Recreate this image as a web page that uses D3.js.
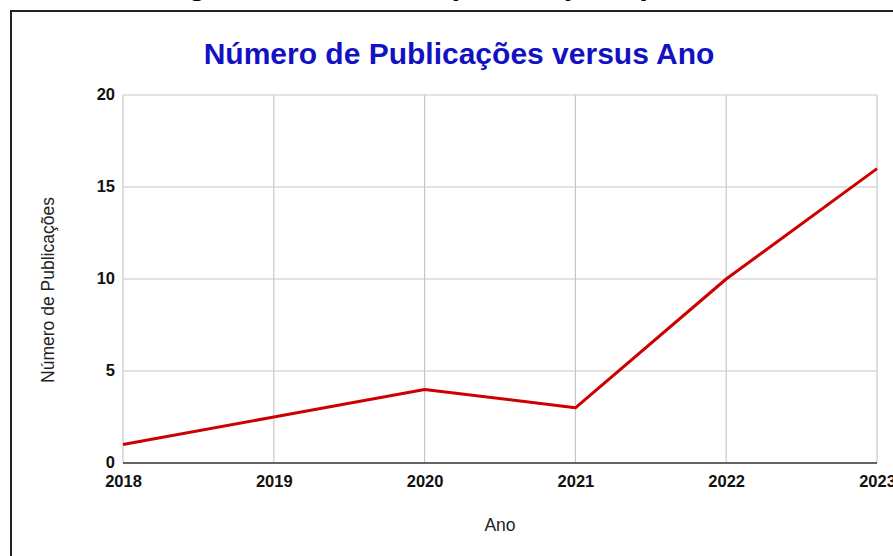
<!DOCTYPE html>
<html><head><meta charset="utf-8">
<script src="https://cdn.jsdelivr.net/npm/d3@7"></script>
<style>
html,body{margin:0;padding:0;background:#fff;}
svg{display:block;font-family:Arial,"Liberation Sans",sans-serif;}
</style></head>
<body>
<svg id="chart" width="893" height="556"></svg>
<script>
const years = [2018, 2019, 2020, 2021, 2022, 2023];
const publicacoes = [1, 2.5, 4, 3, 10, 16];
const yTicks = [0, 5, 10, 15, 20];
const titleText = "Número de Publicações versus Ano";
const xTitle = "Ano";
const yTitle = "Número de Publicações";
const captionStart = "Figura 1";
const captionRest = "Número de publicações por ano";

const svg = d3.select("#chart");
const W = 893, H = 556;
const m = {left:123, right:16, top:95, bottom:93};

// caption of the source document, cut off at the top edge
svg.append("text").attr("x", 160).attr("y", -6)
  .attr("font-size", 31).attr("font-weight", "bold").attr("fill", "#000").text(captionStart);
svg.append("text").attr("x", 281).attr("y", -6)
  .attr("font-size", 31).attr("font-weight", "bold").attr("fill", "#000").text(captionRest);

// frame
svg.append("path").attr("d", `M11,${H+5} L11,11 L${W+5},11`)
  .attr("fill","none").attr("stroke","#222").attr("stroke-width",2);

const x = d3.scaleLinear().domain([2018, 2023]).range([m.left, W - m.right]);
const y = d3.scaleLinear().domain([0, 20]).range([H - m.bottom, m.top]);

// grid
const g = svg.append("g");
g.append("g").selectAll("line").data(yTicks.filter(d=>d>0)).join("line")
  .attr("x1", x(2018)).attr("x2", x(2023))
  .attr("y1", d=>y(d)).attr("y2", d=>y(d))
  .attr("stroke", "#c8c8c8").attr("stroke-width", 1.2);
g.append("g").selectAll("line").data(years).join("line")
  .attr("x1", d=>x(d)).attr("x2", d=>x(d))
  .attr("y1", y(0)).attr("y2", y(20))
  .attr("stroke", "#c8c8c8").attr("stroke-width", 1.2);

// baseline
svg.append("line").attr("x1", x(2018)).attr("x2", x(2023))
  .attr("y1", y(0)).attr("y2", y(0)).attr("stroke", "#333").attr("stroke-width", 1.6);

// axes
const yAxis = svg.append("g").attr("transform", `translate(${x(2018)},0)`)
  .call(d3.axisLeft(y).tickValues(yTicks).tickSize(0).tickPadding(8));
yAxis.select(".domain").remove();
yAxis.selectAll("text").attr("font-size", 16.5).attr("font-weight", "bold")
  .attr("fill", "#111").attr("font-family", "Arial, 'Liberation Sans', sans-serif")
  .attr("dy", "0.25em");

const xAxis = svg.append("g").attr("transform", `translate(0,${y(0)})`)
  .call(d3.axisBottom(x).tickValues(years).tickFormat(d3.format("d")).tickSize(0).tickPadding(12));
xAxis.select(".domain").remove();
xAxis.selectAll("text").attr("font-size", 16.5).attr("font-weight", "bold")
  .attr("fill", "#111").attr("font-family", "Arial, 'Liberation Sans', sans-serif");

// line
svg.append("path").datum(years.map((d,i)=>[d, publicacoes[i]]))
  .attr("d", d3.line().x(d=>x(d[0])).y(d=>y(d[1])))
  .attr("fill", "none").attr("stroke", "#cc0000").attr("stroke-width", 3)
  .attr("stroke-linejoin", "round");

// title
svg.append("text").attr("x", 459).attr("y", 64).attr("text-anchor", "middle")
  .attr("font-size", 30).attr("font-weight", "bold").attr("fill", "#1212c4")
  .text(titleText);

// axis titles
svg.append("text").attr("x", 500).attr("y", 531).attr("text-anchor", "middle")
  .attr("font-size", 17.5).attr("fill", "#222").text(xTitle);
svg.append("text").attr("transform", "translate(54,290) rotate(-90)")
  .attr("text-anchor", "middle").attr("font-size", 17.5).attr("fill", "#222").text(yTitle);
</script>
</body></html>
